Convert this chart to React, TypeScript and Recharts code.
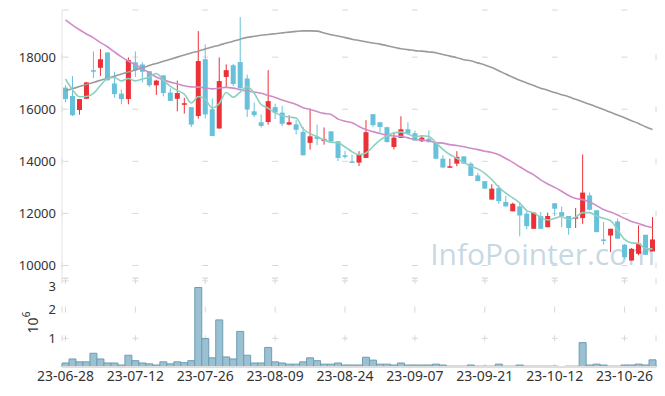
import React from 'react';
import { ComposedChart, Bar, Line, XAxis, YAxis, CartesianGrid } from 'recharts';

// trading days shown on the chart
const dates = [
  '23-06-28', '23-06-29', '23-06-30', '23-07-03', '23-07-04', '23-07-05', '23-07-06', '23-07-07', '23-07-10', '23-07-11',
  '23-07-12', '23-07-13', '23-07-14', '23-07-17', '23-07-18', '23-07-19', '23-07-20', '23-07-21', '23-07-24', '23-07-25',
  '23-07-26', '23-07-27', '23-07-28', '23-07-31', '23-08-01', '23-08-02', '23-08-03', '23-08-04', '23-08-07', '23-08-08',
  '23-08-09', '23-08-10', '23-08-11', '23-08-14', '23-08-16', '23-08-17', '23-08-18', '23-08-21', '23-08-22', '23-08-23',
  '23-08-24', '23-08-25', '23-08-28', '23-08-29', '23-08-30', '23-08-31', '23-09-01', '23-09-04', '23-09-05', '23-09-06',
  '23-09-07', '23-09-08', '23-09-11', '23-09-12', '23-09-13', '23-09-14', '23-09-15', '23-09-18', '23-09-19', '23-09-20',
  '23-09-21', '23-09-22', '23-09-25', '23-09-26', '23-09-27', '23-10-04', '23-10-05', '23-10-06', '23-10-10', '23-10-11',
  '23-10-12', '23-10-13', '23-10-16', '23-10-17', '23-10-18', '23-10-19', '23-10-20', '23-10-23', '23-10-24', '23-10-25',
  '23-10-26', '23-10-27', '23-10-30', '23-10-31', '23-11-01',
];

const opens = [
  16830, 16510, 15970, 16400, 17500, 17590, 18180, 16990, 16600, 16390,
  17800, 17720, 17460, 16920, 17300, 16640, 16400, 16170, 16080, 15740,
  17920, 16000, 15260, 17240, 17690, 17810, 17180, 15920, 15500, 15510,
  16080, 15870, 15410, 15420, 15130, 14710, 14940, 14780, 15150, 14770,
  14230, 14000, 13950, 14130, 15810, 15500, 15310, 14550, 14900, 15230,
  15080, 14770, 14870, 14740, 14100, 13760, 13910, 14190, 13910, 13460,
  13240, 12530, 12970, 12440, 12080, 12270, 11990, 11410, 11900, 11470,
  12390, 12050, 11900, 11800, 11820, 12690, 12120, 11000, 11150, 11690,
  10800, 10190, 10450, 11180, 10540,
];
const highs = [
  16920, 17270, 16390, 17050, 18220, 18310, 18180, 17440, 16760, 17990,
  18220, 17800, 17460, 17130, 17300, 16800, 17100, 16440, 16080, 19000,
  18490, 16410, 17990, 17720, 17740, 19540, 17330, 16260, 15800, 17500,
  16210, 16130, 15770, 15580, 15320, 16030, 15410, 15300, 15150, 14770,
  14400, 14260, 14390, 15580, 15810, 15500, 15330, 15100, 15730, 15500,
  15180, 15000, 15180, 14740, 14230, 14100, 14390, 14190, 13970, 13550,
  13240, 13120, 13080, 12670, 12410, 12440, 12080, 12050, 12050, 12030,
  12390, 12260, 11900, 12210, 14260, 12800, 12120, 11670, 11410, 11800,
  10820, 10670, 11540, 11180, 11860,
];
const lows = [
  16280, 15740, 15790, 16400, 17200, 17280, 17110, 16440, 16190, 16190,
  17240, 17030, 16860, 16550, 16490, 16320, 15920, 15830, 15310, 15640,
  15640, 14970, 15260, 16820, 16890, 16800, 15700, 15700, 15300, 15410,
  15620, 15350, 15390, 15030, 14230, 14450, 14620, 14640, 14720, 14010,
  14100, 13940, 13820, 14130, 15310, 15100, 14720, 14460, 14900, 15060,
  14800, 14740, 14720, 14080, 13760, 13760, 13810, 13910, 13440, 13240,
  12950, 12530, 12370, 12270, 12080, 11120, 11390, 11410, 11390, 11470,
  11900, 11470, 11180, 11440, 11600, 12120, 11280, 10800, 10510, 11030,
  10260, 10190, 10390, 10410, 10540,
];
const closes = [
  16390, 15770, 16390, 17030, 17460, 17920, 17110, 16580, 16390, 17890,
  17500, 17440, 16920, 17100, 16620, 16320, 16620, 16230, 15410, 17850,
  15800, 14970, 17080, 17500, 16970, 16800, 15990, 15770, 15360, 16310,
  15870, 15440, 15500, 15210, 14230, 14960, 14860, 14850, 14760, 14130,
  14170, 13940, 14270, 15120, 15390, 15320, 14740, 14910, 15230, 15060,
  14800, 14910, 14740, 14100, 13760, 13810, 14170, 13910, 13440, 13240,
  12950, 12950, 12470, 12270, 12370, 11920, 11510, 12030, 11410, 11900,
  12180, 11900, 11440, 11860, 12800, 12140, 11280, 10970, 11410, 11030,
  10320, 10640, 10850, 10410, 11000,
];

// moving averages as drawn (5, 20, 60 days)
const ma5 = [
  17160, 16750, 16480, 16490, 16610, 16910, 17180, 17220, 17090, 17180,
  17090, 17160, 17230, 17370, 17120, 16880, 16720, 16580, 16240, 16490,
  16380, 16050, 16220, 16640, 16460, 16660, 16870, 16610, 16180, 16040,
  15860, 15750, 15700, 15660, 15250, 15070, 14950, 14820, 14730, 14710,
  14550, 14370, 14250, 14320, 14570, 14810, 14970, 15100, 15120, 15050,
  14950, 14980, 14950, 14720, 14460, 14260, 14120, 13950, 13820, 13710,
  13540, 13300, 13010, 12780, 12600, 12400, 12110, 12020, 11850, 11750,
  11810, 11880, 11760, 11850, 12030, 12030, 11900, 11810, 11720, 11370,
  11000, 10870, 10850, 10650, 10640,
];
const ma20 = [
  19430, 19230, 19050, 18890, 18740, 18560, 18400, 18200, 18010, 17850,
  17710, 17560, 17400, 17240, 17130, 17040, 16980, 16900, 16860, 16850,
  16820, 16780, 16810, 16840, 16810, 16750, 16700, 16660, 16610, 16530,
  16450, 16350, 16270, 16180, 16060, 15990, 15910, 15840, 15800, 15620,
  15540, 15480, 15340, 15220, 15140, 15070, 15010, 14970, 14960, 14900,
  14840, 14820, 14780, 14720, 14700, 14640, 14610, 14560, 14500, 14450,
  14390, 14340, 14250, 14110, 13960, 13790, 13630, 13480, 13290, 13130,
  13000, 12850, 12690, 12570, 12530, 12440, 12300, 12150, 12050, 11940,
  11810, 11690, 11610, 11520, 11450,
];
const ma60 = [
  16710, 16790, 16870, 16950, 17030, 17110, 17190, 17270, 17350, 17430,
  17510, 17590, 17680, 17760, 17840, 17920, 18000, 18080, 18160, 18230,
  18310, 18390, 18460, 18540, 18610, 18690, 18760, 18800, 18840, 18870,
  18900, 18930, 18960, 18990, 19010, 19010, 19000, 18930, 18860, 18810,
  18750, 18690, 18640, 18590, 18540, 18500, 18440, 18380, 18320, 18290,
  18250, 18230, 18200, 18170, 18100, 18040, 17980, 17900, 17860, 17780,
  17700, 17600, 17480, 17350, 17230, 17110, 17010, 16910, 16810, 16730,
  16640, 16560, 16480, 16380, 16290, 16190, 16090, 15990, 15880, 15780,
  15670, 15560, 15450, 15330, 15220,
];

const volumes = [
  140000, 280000, 180000, 180000, 480000, 280000, 140000, 140000, 70000, 410000,
  220000, 140000, 110000, 70000, 180000, 110000, 180000, 150000, 220000, 2770000,
  990000, 320000, 1640000, 350000, 280000, 1240000, 410000, 140000, 140000, 680000,
  180000, 140000, 100000, 100000, 180000, 320000, 220000, 100000, 100000, 140000,
  70000, 70000, 70000, 340000, 240000, 100000, 100000, 70000, 140000, 70000,
  70000, 70000, 70000, 100000, 70000, 30000, 30000, 30000, 70000, 30000,
  30000, 30000, 100000, 30000, 30000, 70000, 30000, 30000, 30000, 30000,
  30000, 0, 30000, 30000, 850000, 70000, 100000, 70000, 30000, 30000,
  70000, 70000, 100000, 70000, 250000,
];

const tickDates = ['23-06-28', '23-07-12', '23-07-26', '23-08-09', '23-08-24', '23-09-07', '23-09-21', '23-10-12', '23-10-26'];
const priceTicks = [10000, 12000, 14000, 16000, 18000];
const volumeTicks = [1000000, 2000000, 3000000];

const rows = dates.map((date, i) => ({
  date,
  open: opens[i],
  high: highs[i],
  low: lows[i],
  close: closes[i],
  range: [lows[i], highs[i]],
  ma5: ma5[i],
  ma20: ma20[i],
  ma60: ma60[i],
  volume: volumes[i],
}));

const RED = '#eb3038';
const BLUE = '#67c1da';
const FONT = "'Noto Sans', 'Open Sans', sans-serif";
const BORDER = '#e4e4e4';
const GRID = '#d8d8d8';

const Candle = (props: any) => {
  const { x, y, width, height, payload } = props;
  const top = Math.min(y, y + height);
  const h = Math.abs(height);
  const span = payload.high - payload.low || 1;
  const py = (v: number) => top + ((payload.high - v) / span) * h;
  const color = payload.close >= payload.open ? RED : BLUE;
  const bTop = py(Math.max(payload.open, payload.close));
  const bBot = py(Math.min(payload.open, payload.close));
  const cx = x + width / 2;
  return (
    <g>
      <line x1={cx} x2={cx} y1={top} y2={top + h} stroke={color} strokeWidth={1} />
      <rect x={x} y={bTop} width={width} height={Math.max(1.5, bBot - bTop)} fill={color} />
    </g>
  );
};

const VolumeLabel = (props: any) => {
  const { viewBox } = props;
  const cx = viewBox.x + 32;
  const cy = viewBox.y + viewBox.height / 2;
  return (
    <text x={cx} y={cy} transform={`rotate(-90, ${cx}, ${cy})`} textAnchor="middle" dominantBaseline="central"
      fontSize={14} fontFamily={FONT} fill="#333">
      10<tspan fontSize={10} dy={-6}>6</tspan>
    </text>
  );
};

export default function App() {
  const tickStyle = { fontSize: 13, fill: '#333', fontFamily: FONT };
  const dateStyle = { fontSize: 14, fill: '#333', fontFamily: FONT };
  return (
    <div style={{ position: 'absolute', left: 0, top: 0, width: 665, height: 396, background: '#fff', fontFamily: FONT }}>
      <div style={{ position: 'absolute', right: 10, top: 239, fontSize: 30, lineHeight: '30px', fontFamily: "'Open Sans', sans-serif",
        color: 'rgba(160,190,210,0.6)', pointerEvents: 'none' }}>
        InfoPointer.com
      </div>

      <div style={{ position: 'absolute', left: 0, top: 0 }}>
        <ComposedChart width={665} height={280} data={rows} margin={{ top: 10, right: 9, bottom: 2, left: 0 }}>
          <CartesianGrid xAxisId="b" yAxisId="p" vertical={false} stroke={GRID} strokeDasharray="6 63.88" strokeDashoffset={-0.5} />
          <CartesianGrid xAxisId="b" yAxisId="p" horizontal={false} stroke={GRID} strokeDasharray="6 46.09" strokeDashoffset={7.95} />
          <XAxis xAxisId="b" dataKey="date" ticks={tickDates} interval={0} tick={false} tickLine={false} height={0}
            axisLine={{ stroke: BORDER }} />
          <XAxis xAxisId="t" dataKey="date" orientation="top" tick={false} tickLine={false} height={0}
            axisLine={{ stroke: BORDER }} />
          <YAxis yAxisId="p" domain={[9520, 19810]} ticks={priceTicks} allowDataOverflow width={62}
            tickLine={false} tickSize={0} tickMargin={6} axisLine={{ stroke: BORDER }} tick={tickStyle} />
          <YAxis yAxisId="r" orientation="right" domain={[9520, 19810]} width={0} tick={false} tickLine={false}
            axisLine={{ stroke: BORDER }} />
          <Bar xAxisId="b" yAxisId="p" dataKey="range" barSize={5} shape={Candle} isAnimationActive={false} />
          <Line xAxisId="b" yAxisId="p" type="monotone" dataKey="ma60" stroke="#9a9a9a" strokeWidth={1.6} dot={false} isAnimationActive={false} />
          <Line xAxisId="b" yAxisId="p" type="monotone" dataKey="ma20" stroke="#cf8cc8" strokeWidth={1.6} dot={false} isAnimationActive={false} />
          <Line xAxisId="b" yAxisId="p" type="monotone" dataKey="ma5" stroke="#8ed0c0" strokeWidth={1.6} dot={false} isAnimationActive={false} />
        </ComposedChart>
      </div>

      <div style={{ position: 'absolute', left: 0, top: 278 }}>
        <ComposedChart width={665} height={118} data={rows} margin={{ top: 0, right: 9, bottom: 0, left: 0 }} barCategoryGap={0}>
          <CartesianGrid xAxisId="b" yAxisId="v" vertical={false} stroke={GRID} strokeDasharray="6 63.88" strokeDashoffset={-0.5} />
          <CartesianGrid xAxisId="b" yAxisId="v" horizontal={false} stroke={GRID} strokeDasharray="6 22.71" strokeDashoffset={0.13} />
          <XAxis xAxisId="b" dataKey="date" ticks={tickDates} interval={0} tickLine={false} tickSize={0} tickMargin={4}
            height={29} axisLine={{ stroke: '#dedede', strokeWidth: 2 }} tick={dateStyle} />
          <XAxis xAxisId="t" dataKey="date" orientation="top" tick={false} tickLine={false} height={0}
            axisLine={{ stroke: BORDER }} />
          <YAxis yAxisId="v" domain={[0, 3100000]} ticks={volumeTicks} allowDataOverflow width={62}
            tickFormatter={(v: number) => String(v / 1000000)} tickLine={false} tickSize={0} tickMargin={6}
            axisLine={false} tick={tickStyle} label={<VolumeLabel />} />
          <YAxis yAxisId="r" orientation="right" domain={[0, 3100000]} width={0} tick={false} tickLine={false}
            axisLine={{ stroke: BORDER }} />
          <Bar xAxisId="b" yAxisId="v" dataKey="volume" fill="#9ac1d2" stroke="#6f9db5" strokeWidth={1} isAnimationActive={false} />
        </ComposedChart>
      </div>
    </div>
  );
}
